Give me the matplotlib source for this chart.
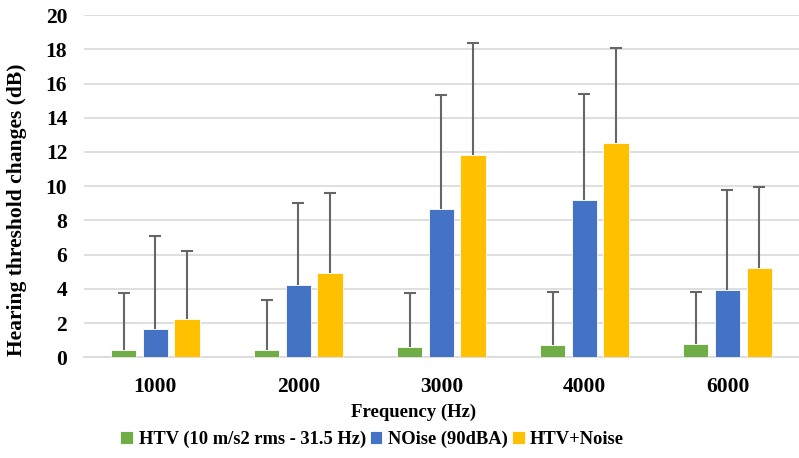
import numpy as np
import matplotlib
matplotlib.use("Agg")
import matplotlib.pyplot as plt

freqs = ["1000", "2000", "3000", "4000", "6000"]
series = ["HTV (10 m/s2 rms - 31.5 Hz)", "NOise (90dBA)", "HTV+Noise"]
htv = [0.4, 0.45, 0.6, 0.7, 0.75]
htv_top = [3.75, 3.35, 3.75, 3.8, 3.8]
noise = [1.65, 4.2, 8.65, 9.2, 3.95]
noise_top = [7.1, 9.0, 15.35, 15.4, 9.8]
both = [2.25, 4.95, 11.85, 12.5, 5.2]
both_top = [6.2, 9.6, 18.35, 18.1, 9.95]

colors = ["#70ad47", "#4472c4", "#ffc000"]

plt.rcParams["font.family"] = "Liberation Serif"
plt.rcParams["font.weight"] = "bold"

fig = plt.figure(figsize=(7.99, 4.58), dpi=100)
ax = fig.add_axes([0.105, 0.22, 0.895, 0.747])

x = np.arange(len(freqs))
width = 0.18
offset = 0.223
for i, (vals, tops) in enumerate([(htv, htv_top), (noise, noise_top), (both, both_top)]):
    vals = np.array(vals)
    err = np.array(tops) - vals
    pos = x + (i - 1) * offset
    ax.bar(pos, vals, width, color=colors[i], edgecolor="white", linewidth=0.6,
           label=series[i], zorder=3)
    _, caps, _ = ax.errorbar(pos, vals, yerr=[np.zeros_like(err), err], fmt="none",
                             ecolor="#666666", elinewidth=1.5, capsize=4,
                             capthick=1.5, zorder=4)
    caps[0].set_visible(False)  # only the upper cap is drawn

ax.set_xlim(-0.5, len(freqs) - 0.5)
ax.set_ylim(0, 20)
ax.set_yticks(np.arange(0, 21, 2))
ax.set_xticks(x)
ax.set_xticklabels(freqs)
ax.grid(axis="y", color="#d9d9d9", linewidth=1.2, zorder=0)
for s in ["top", "right", "left"]:
    ax.spines[s].set_visible(False)
ax.spines["bottom"].set_color("#d9d9d9")
ax.spines["bottom"].set_linewidth(1.2)
ax.tick_params(axis="y", length=0, labelsize=15.5, pad=12)
ax.tick_params(axis="x", length=0, labelsize=15.5, pad=14)
for lab in ax.get_xticklabels() + ax.get_yticklabels():
    lab.set_fontweight("bold")

ax.set_xlabel("Frequency (Hz)", fontsize=13.5, fontweight="bold", labelpad=5)
ax.xaxis.set_label_coords(0.461, -0.135)
ax.set_ylabel("Hearing threshold changes (dB)", fontsize=15.5, fontweight="bold")
ax.yaxis.set_label_coords(-0.079, 0.43)

ax.legend(loc="upper center", bbox_to_anchor=(0.403, -0.165), ncol=3, frameon=False,
          handlelength=0.7, handleheight=0.7, handletextpad=0.3,
          columnspacing=0.2, prop={"weight": "bold", "size": 13.3})

fig.savefig("out.png", dpi=100)
